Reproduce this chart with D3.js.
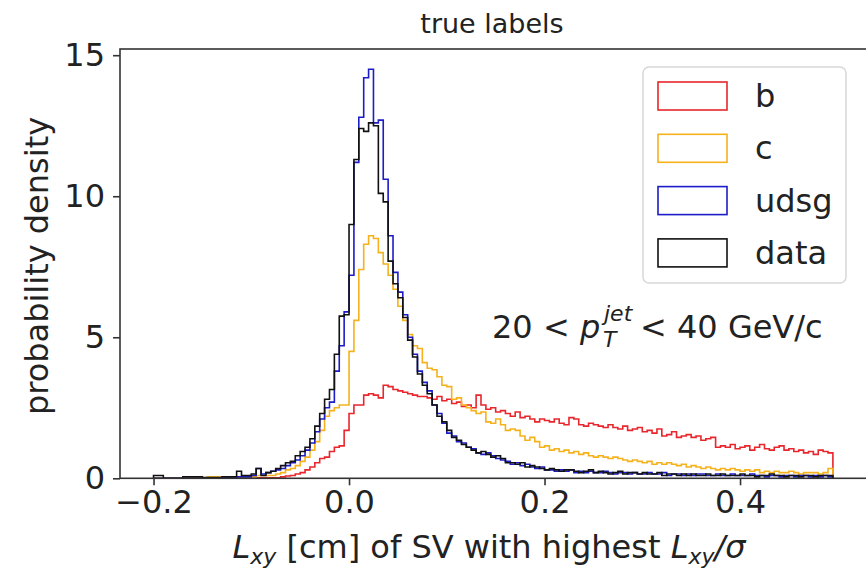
<!DOCTYPE html>
<html>
<head>
<meta charset="utf-8">
<script src="https://cdn.jsdelivr.net/npm/d3@7"></script>
<style>
  html, body { margin: 0; padding: 0; background: #fff; }
  svg { display: block; font-family: "DejaVu Sans", sans-serif; }
</style>
</head>
<body>
<div id="chart"></div>
<script>
// Histogram binning (common bins for all four samples)
const binStart = -0.2;
const binWidth = 0.005;

// b jets
const bValues = [
  0, 0, 0, 0, 0, 0, 0, 0, 0, 0,
  0, 0, 0, 0, 0, 0, 0, 0, 0, 0,
  0, 0.02, 0.02, 0.02, 0.02, 0.02, 0.05, 0.08, 0.1, 0.15,
  0.2, 0.3, 0.4, 0.55, 0.7, 0.75, 0.95, 1.1, 1.15, 1.7,
  2.3, 2.6, 2.6, 2.95, 3.0, 2.95, 2.85, 3.3, 3.25, 3.15,
  3.1, 3.05, 3.0, 2.95, 2.9, 2.9, 2.85, 2.8, 2.9, 2.75,
  2.8, 2.65, 2.7, 2.55, 2.6, 2.5, 2.95, 2.6, 2.45, 2.5,
  2.35, 2.4, 2.3, 2.2, 2.35, 2.15, 2.2, 2.1, 2.0, 2.1,
  2.05, 2.0, 2.1, 1.95, 1.9, 2.15, 2.1, 1.9, 1.85, 1.95,
  1.9, 1.85, 1.8, 1.9, 1.8, 1.75, 1.85, 1.7, 1.75, 1.8,
  1.65, 1.7, 1.6, 1.75, 1.5, 1.55, 1.65, 1.45, 1.5, 1.55,
  1.45, 1.5, 1.35, 1.4, 1.45, 1.1, 1.15, 1.1, 1.2, 1.05,
  1.1, 1.15, 1.0, 1.1, 1.2, 1.05, 1.0, 1.1, 1.15, 1.0,
  1.05, 0.95, 1.0, 0.9, 0.95, 0.85, 1.0, 0.95, 0.9
];

// c jets
const cValues = [
  0, 0, 0, 0, 0, 0, 0, 0, 0, 0,
  0, 0.05, 0.05, 0.05, 0.05, 0.05, 0.05, 0.05, 0.05, 0.05,
  0.05, 0.1, 0.1, 0.1, 0.1, 0.15, 0.2, 0.3, 0.35, 0.45,
  0.6, 0.75, 1.0, 1.3, 1.7, 2.2, 2.4, 2.5, 2.6, 2.6,
  4.5, 5.6, 7.4, 8.3, 8.6, 8.5, 8.0, 7.6, 7.2, 6.7,
  6.1, 5.6, 5.1, 4.7, 4.6, 4.1, 3.9, 3.85, 3.6, 3.3,
  3.25, 2.8, 2.85, 2.6, 2.5, 2.4, 2.3, 2.35, 2.0, 1.95,
  2.1, 1.9, 1.7, 1.75, 1.7, 1.5, 1.35, 1.45, 1.3, 1.1,
  1.15, 1.0, 1.05, 0.95, 1.0, 0.9, 0.95, 0.85, 0.9, 0.8,
  0.75, 0.8, 0.75, 0.7, 0.75, 0.7, 0.65, 0.6, 0.65, 0.6,
  0.55, 0.6, 0.5, 0.55, 0.5, 0.55, 0.5, 0.45, 0.5, 0.4,
  0.45, 0.4, 0.35, 0.4, 0.35, 0.3, 0.35, 0.3, 0.35, 0.3,
  0.25, 0.3, 0.25, 0.3, 0.2, 0.25, 0.2, 0.25, 0.2, 0.2,
  0.25, 0.2, 0.15, 0.2, 0.2, 0.2, 0.15, 0.2, 0.35
];

// udsg jets
const udsgValues = [
  0, 0, 0, 0, 0, 0, 0, 0, 0, 0,
  0, 0, 0, 0, 0.02, 0.02, 0.02, 0.05, 0.05, 0.05,
  0.1, 0.35, 0.15, 0.2, 0.25, 0.3, 0.35, 0.45, 0.55, 0.65,
  0.8, 1.0, 1.25, 1.65, 2.1, 2.5, 2.7, 3.8, 4.7, 5.9,
  7.2, 11.2, 12.8, 14.2, 14.5, 12.6, 12.7, 10.6, 8.6, 7.3,
  6.6, 5.8, 5.0, 4.4, 3.8, 3.4, 3.1, 2.6, 2.3, 1.95,
  1.6, 1.5, 1.3, 1.25, 1.1, 1.05, 0.9, 0.85, 0.9, 0.8,
  0.7, 0.65, 0.6, 0.5, 0.55, 0.45, 0.5, 0.4, 0.35, 0.4,
  0.3, 0.3, 0.25, 0.3, 0.25, 0.3, 0.2, 0.25, 0.2, 0.25,
  0.2, 0.2, 0.25, 0.2, 0.15, 0.2, 0.2, 0.15, 0.2, 0.15,
  0.15, 0.2, 0.15, 0.15, 0.2, 0.1, 0.15, 0.15, 0.1, 0.15,
  0.1, 0.15, 0.15, 0.1, 0.1, 0.15, 0.1, 0.1, 0.15, 0.1,
  0.1, 0.1, 0.15, 0.1, 0.1, 0.05, 0.1, 0.1, 0.05, 0.1,
  0.1, 0.05, 0.1, 0.1, 0.05, 0.1, 0.05, 0.1, 0.05
];

// data
const dataValues = [
  0.1, 0.1, 0, 0, 0, 0, 0.05, 0.05, 0.05, 0.05,
  0.03, 0.03, 0.03, 0.03, 0.05, 0.05, 0.05, 0.25, 0.1, 0.1,
  0.15, 0.35, 0.1, 0.2, 0.25, 0.35, 0.45, 0.55, 0.6, 0.8,
  0.95, 1.1, 1.4, 1.85, 2.3, 2.8, 3.15, 4.4, 5.75, 5.8,
  9.0, 11.3, 12.4, 12.3, 12.6, 12.5, 10.1, 9.8, 7.7, 6.9,
  6.4, 5.7, 4.9, 4.3, 3.7, 3.3, 3.0, 2.6, 2.2, 2.0,
  1.7, 1.45, 1.35, 1.2, 1.1, 1.0, 0.9, 0.95, 0.85, 0.75,
  0.8, 0.7, 0.55, 0.55, 0.5, 0.55, 0.4, 0.45, 0.4, 0.35,
  0.3, 0.35, 0.3, 0.25, 0.3, 0.3, 0.25, 0.2, 0.25, 0.3,
  0.2, 0.25, 0.2, 0.15, 0.2, 0.25, 0.15, 0.2, 0.2, 0.15,
  0.2, 0.15, 0.15, 0.2, 0.1, 0.15, 0.15, 0.1, 0.15, 0.1,
  0.15, 0.1, 0.1, 0.15, 0.1, 0.1, 0.15, 0.1, 0.1, 0.1,
  0.15, 0.1, 0.1, 0.05, 0.1, 0.1, 0.15, 0.1, 0.1, 0.05,
  0.1, 0.1, 0.05, 0.1, 0.1, 0.05, 0.1, 0.1, 0.1
];

const seriesNames = ["b", "c", "udsg", "data"];
const seriesColors = ["#e8262c", "#f5b21c", "#1c1cc8", "#111111"];
const seriesValues = [bValues, cValues, udsgValues, dataValues];

const xTicks = [-0.2, 0.0, 0.2, 0.4];
const yTicks = [0, 5, 10, 15];

// Dimensions
const W = 866, H = 577;
const plot = {left: 120, top: 49, right: 872, bottom: 478.3};

const svg = d3.select("#chart")
  .append("svg")
  .attr("width", W)
  .attr("height", H);

// Scales
const xScale = d3.scaleLinear().domain([-0.2343, 0.535]).range([plot.left, plot.right]);
const yScale = d3.scaleLinear().domain([0, 15.22]).range([plot.bottom, plot.top]);

// Step histogram outlines
const line = d3.line().x(d => xScale(d[0])).y(d => yScale(d[1]));

seriesValues.forEach((vals, s) => {
  const pts = [[binStart, 0]];
  vals.forEach((v, i) => {
    pts.push([binStart + i * binWidth, v]);
    pts.push([binStart + (i + 1) * binWidth, v]);
  });
  pts.push([binStart + vals.length * binWidth, 0]);
  svg.append("path")
    .attr("d", line(pts))
    .attr("fill", "none")
    .attr("stroke", seriesColors[s])
    .attr("stroke-width", 1.6)
    .attr("stroke-linejoin", "miter");
});

// Frame
svg.append("rect")
  .attr("x", plot.left)
  .attr("y", plot.top)
  .attr("width", plot.right - plot.left)
  .attr("height", plot.bottom - plot.top)
  .attr("fill", "none")
  .attr("stroke", "#333")
  .attr("stroke-width", 1.6);

// Axes
const xAxis = svg.append("g")
  .attr("transform", `translate(0,${plot.bottom})`)
  .call(d3.axisBottom(xScale).tickValues(xTicks).tickSize(7).tickPadding(5)
    .tickFormat(d => d3.format(".1f")(d).replace("-", "\u2212")));
const yAxis = svg.append("g")
  .attr("transform", `translate(${plot.left},0)`)
  .call(d3.axisLeft(yScale).tickValues(yTicks).tickSize(7).tickPadding(8));

[xAxis, yAxis].forEach(g => {
  g.select(".domain").remove();
  g.selectAll(".tick line").attr("stroke", "#333").attr("stroke-width", 1.6);
  g.selectAll(".tick text")
    .attr("fill", "#222")
    .style("font-family", "DejaVu Sans")
    .style("font-size", "32px");
});

// Title
svg.append("text")
  .attr("x", 492)
  .attr("y", 33)
  .attr("text-anchor", "middle")
  .attr("fill", "#222")
  .style("font-size", "27px")
  .text("true labels");

// Axis labels
svg.append("text")
  .attr("transform", "translate(48,266) rotate(-90)")
  .attr("text-anchor", "middle")
  .attr("fill", "#222")
  .style("font-size", "32px")
  .text("probability density");

const xl = svg.append("text")
  .attr("x", 489)
  .attr("y", 558)
  .attr("text-anchor", "middle")
  .attr("fill", "#222")
  .style("font-size", "32px");
xl.append("tspan").attr("font-style", "italic").text("L");
xl.append("tspan").attr("font-style", "italic").attr("font-size", "22px").attr("dy", 6).text("xy");
xl.append("tspan").attr("dy", -6).text(" [cm] of SV with highest ");
xl.append("tspan").attr("font-style", "italic").text("L");
xl.append("tspan").attr("font-style", "italic").attr("font-size", "22px").attr("dy", 6).text("xy");
xl.append("tspan").attr("font-style", "italic").attr("dy", -6).text("/\u03c3");

// pT range annotation (mathtext-like: p with stacked sub/superscript)
const ann = svg.append("g").attr("fill", "#222");
const annMain = ann.append("text")
  .attr("x", 492)
  .attr("y", 338)
  .style("font-size", "32px");
annMain.append("tspan").text("20 < ");
annMain.append("tspan").attr("font-style", "italic").text("p");
ann.append("text")
  .attr("x", 604)
  .attr("y", 321)
  .attr("font-style", "italic")
  .style("font-size", "22px")
  .text("jet");
ann.append("text")
  .attr("x", 603)
  .attr("y", 347)
  .attr("font-style", "italic")
  .style("font-size", "22px")
  .text("T");
ann.append("text")
  .attr("x", 640)
  .attr("y", 338)
  .style("font-size", "32px")
  .text("< 40 GeV/c");

// Legend
const legend = svg.append("g").attr("transform", "translate(643,67)");
legend.append("rect")
  .attr("width", 203)
  .attr("height", 216)
  .attr("rx", 6)
  .attr("fill", "#fff")
  .attr("fill-opacity", 0.8)
  .attr("stroke", "#d8d8d8")
  .attr("stroke-width", 1.5);

seriesNames.forEach((name, i) => {
  const row = legend.append("g").attr("transform", `translate(15,${15 + i * 52.3})`);
  row.append("rect")
    .attr("width", 69)
    .attr("height", 28)
    .attr("fill", "none")
    .attr("stroke", seriesColors[i])
    .attr("stroke-width", 1.6);
  row.append("text")
    .attr("x", 97)
    .attr("y", 25)
    .attr("fill", "#222")
    .style("font-size", "32px")
    .text(name);
});
</script>
</body>
</html>
